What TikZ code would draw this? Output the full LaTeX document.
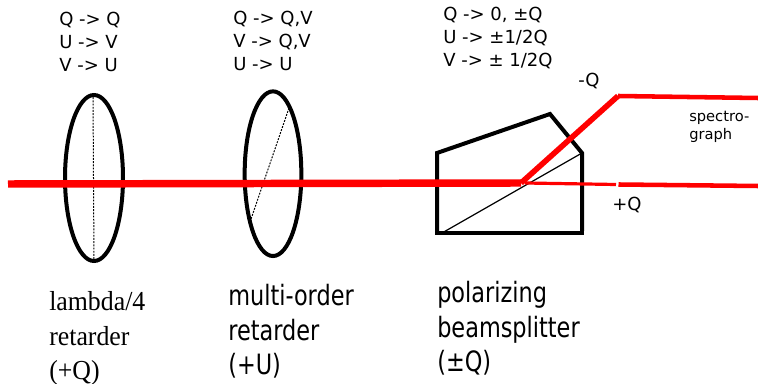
\documentclass[tikz,border=0pt]{standalone}
\usepackage{fontspec}
\setmainfont{DejaVu Sans}
\newfontfamily\narrowfont[FakeStretch=0.8]{DejaVu Sans}
\newfontfamily\serifnarrow[FakeStretch=0.94]{Liberation Serif}
\usetikzlibrary{positioning, shapes.geometric}
\definecolor{beamred}{RGB}{255, 0, 0}

\begin{document}
\begin{tikzpicture}[
  x=0.75pt, y=-0.75pt,
  lens/.style={
    draw=black, ellipse, line width=3pt, inner sep=0pt, outer sep=0pt
  },
  axis/.style={dash pattern=on 1.4pt off 1pt, line width=0.75pt},
  prism/.style={line width=3pt, line cap=butt, line join=miter},
  beam/.style={color=beamred, line width=#1},
  rules/.style={
    anchor=base west, inner sep=0pt, align=left,
    font=\fontsize{13.5}{17.25}\selectfont
  },
  partname/.style={
    anchor=base west, inner sep=0pt, align=left,
    font=\narrowfont\fontsize{21}{25.9}\selectfont
  },
  small/.style={anchor=base west, inner sep=0pt, font=\fontsize{13.5}{16}\selectfont}
]
  \useasboundingbox (0,0) rectangle (758,384);

  % Optical elements
  \node[lens, minimum width=43.5pt, minimum height=124.5pt] (qwp) at (94,178) {};
  \node[lens, minimum width=42.5pt, minimum height=123.5pt] (mor) at (273,173.7) {};

  \coordinate (qwptop) at (93,94);
  \coordinate (qwpbot) at (94,262);
  \coordinate (mortop) at (289,108);
  \coordinate (morbot) at (250,222);
  \draw[axis] (qwptop) -- (qwpbot);
  \draw[axis] (mortop) -- (morbot);

  % Prism outline
  \coordinate (pa) at (437,153);
  \coordinate (pb) at (550,114);
  \coordinate (pc) at (582,153);
  \coordinate (pd) at (582,231);
  \coordinate (pe) at (437,235);
  \coordinate (pf) at (584,233);
  \coordinate (pg) at (437,233);
  \coordinate (ph) at (442,233);
  \draw[prism] (pe) -- (pa) -- (pb) -- (pc) -- (pd);
  \draw[prism] (pg) -- (pf);
  \draw[line width=0.9pt] (ph) -- (pc);

  % Beams
  \coordinate (start) at (8,184);
  \coordinate (split) at (521,183);
  \coordinate (minusa) at (618,96);
  \coordinate (minusb) at (758,98);
  \coordinate (plusa) at (525,183);
  \coordinate (plusb) at (616,184.5);
  \coordinate (plusc) at (618.5,184.5);
  \coordinate (plusd) at (758,186);
  \draw[beam=5.6pt] (start) -- (split);
  \draw[beam=4.2pt] (split) -- (minusa);
  \draw[beam=3.4pt] (minusa) -- (minusb);
  \draw[beam=2.4pt] (plusa) -- (plusb);
  \draw[beam=3.4pt] (plusc) -- (plusd);

  % Mueller rules above each element
  \node[rules] (rulesqwp) at (59,72) {Q -> Q\\U -> V\\V -> U};
  \node[rules] (rulesmor) at (233,71) {Q -> Q,V\\V -> Q,V\\U -> U};
  \node[rules] (rulespbs) at (443,67) {Q -> 0, ±Q\\U -> ±1/2Q\\V -> ± 1/2Q};

  % Beam labels
  \node[small] (minusq) at (578,87) {-Q};
  \node[small] (plusq) at (612,211) {+Q};
  \node[anchor=base west, inner sep=0pt, align=left,
    font=\fontsize{11}{13.5}\selectfont] (spec) at (689,140) {spectro-\\graph};

  % Element names
  \node[partname, font=\serifnarrow\fontsize{20.6}{25.9}\selectfont] (nameqwp) at (49,380) {lambda/4\\retarder\\(+Q)};
  \node[partname] (namemor) at (228,375) {multi-order\\retarder\\(+U)};
  \node[partname] (namepbs) at (437,372) {polarizing\\beamsplitter\\(±Q)};
\end{tikzpicture}
\end{document}
